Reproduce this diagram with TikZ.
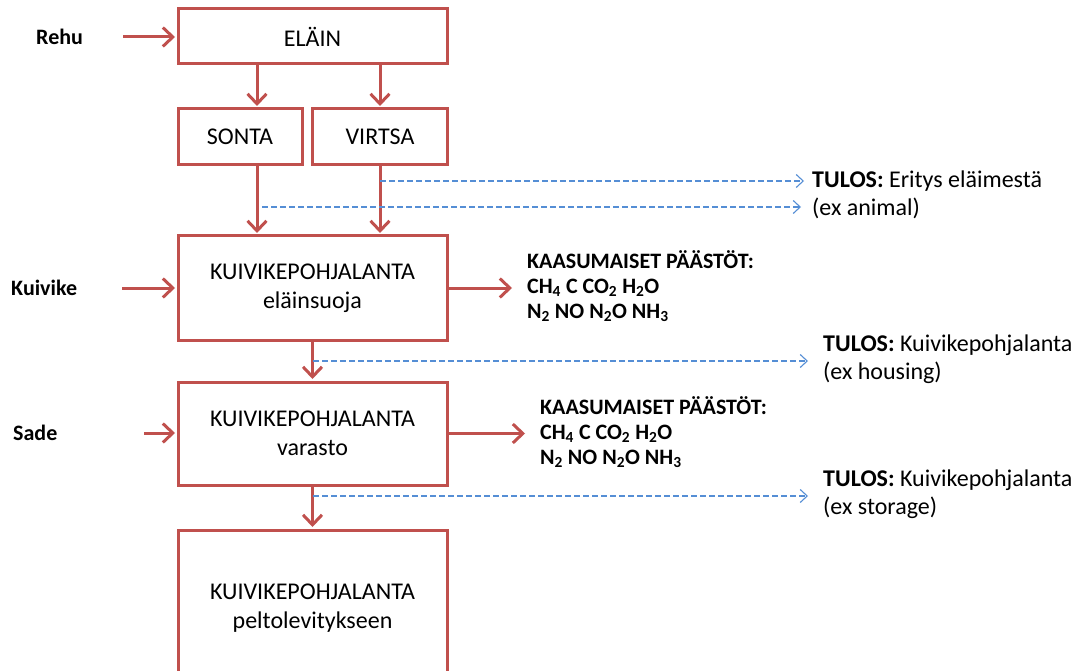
\documentclass[tikz,border=0pt]{standalone}
\usepackage{fontspec}
\setmainfont{Carlito}
\usetikzlibrary{arrows.meta}
\definecolor{boxred}{HTML}{C0504D}
\definecolor{dashblue}{HTML}{558ED5}
\tikzset{
  box/.style={draw=boxred, line width=3pt, align=center, minimum width=269pt, font=\fontsize{24}{29}\selectfont},
  redarrow/.style={draw=boxred, line width=3pt, -{Straight Barb[length=10pt,width=19pt]}},
  bluearrow/.style={draw=dashblue, line width=1.1pt, dash pattern=on 6pt off 3pt, -{Straight Barb[length=7pt,width=13pt]}},
  inlabel/.style={anchor=west, inner sep=0pt, font=\bfseries\fontsize{22}{24}\selectfont},
  gas/.style={anchor=west, align=left, inner sep=0pt, font=\bfseries\fontsize{22}{25}\selectfont},
  tulos/.style={anchor=west, align=left, inner sep=0pt, font=\fontsize{24}{28}\selectfont}
}

\begin{document}
\begin{tikzpicture}[x=1pt,y=-1pt]
  \clip (0,0) rectangle (1074,671);
  % laatikot
  \node[box, minimum height=55pt] (elain) at (312.5,36.5) {ELÄIN};
  \node[box, minimum width=124pt, minimum height=56pt] (sonta) at (240,137) {SONTA};
  \node[box, minimum width=135pt, minimum height=56pt] (virtsa) at (380,137) {VIRTSA};
  \node[box, minimum height=104pt] (suoja) at (312.5,288) {KUIVIKEPOHJALANTA\\eläinsuoja};
  \node[box, minimum height=103pt] (varasto) at (312.5,433.5) {KUIVIKEPOHJALANTA\\varasto};
  \node[box, minimum height=156pt] (pelto) at (312.5,608) {KUIVIKEPOHJALANTA\\peltolevitykseen};

  % sisaan tulevat
  \node[inlabel] (rehu) at (36,37) {Rehu};
  \node[inlabel] (kuivike) at (11,288) {Kuivike};
  \node[inlabel] (sade) at (13,433) {Sade};
  \coordinate (rehuin) at (123,37);
  \coordinate (kuivikein) at (122,288);
  \coordinate (sadein) at (144,433);
  \draw[redarrow, shorten >=1.5pt] (rehuin) -- (rehuin -| elain.west);
  \draw[redarrow, shorten >=1.5pt] (kuivikein) -- (kuivikein -| suoja.west);
  \draw[redarrow, shorten >=1.5pt] (sadein) -- (sadein -| varasto.west);

  % paastot
  \node[gas] (gas1) at (527,286) {KAASUMAISET PÄÄSTÖT:\\CH\textsubscript{4} C CO\textsubscript{2} H\textsubscript{2}O\\N\textsubscript{2} NO N\textsubscript{2}O NH\textsubscript{3}};
  \node[gas] (gas2) at (540,432) {KAASUMAISET PÄÄSTÖT:\\CH\textsubscript{4} C CO\textsubscript{2} H\textsubscript{2}O\\N\textsubscript{2} NO N\textsubscript{2}O NH\textsubscript{3}};
  \draw[redarrow, shorten >=15pt] (suoja.east) -- (suoja.east -| gas1.west);
  \draw[redarrow, shorten >=15pt] (varasto.east) -- (varasto.east -| gas2.west);

  % virtaus alas
  \coordinate (c1) at (257,0);
  \draw[redarrow, shorten >=1.5pt] (elain.south -| c1) -- (sonta.north -| c1);
  \draw[redarrow, shorten >=1.5pt] (elain.south -| virtsa) -- (virtsa.north);
  \draw[redarrow, shorten >=1.5pt] (sonta.south -| c1) -- (suoja.north -| c1);
  \draw[redarrow, shorten >=1.5pt] (virtsa.south) -- (suoja.north -| virtsa);
  \draw[redarrow, shorten >=1.5pt] (suoja.south) -- (varasto.north);
  \draw[redarrow, shorten >=1.5pt] (varasto.south) -- (pelto.north);

  % tulokset
  \node[tulos] (tulos1) at (812,195) {\textbf{TULOS:} Eritys eläimestä\\(ex animal)};
  \node[tulos] (tulos2) at (823,359) {\textbf{TULOS:} Kuivikepohjalanta\\(ex housing)};
  \node[tulos] (tulos3) at (823,494) {\textbf{TULOS:} Kuivikepohjalanta\\(ex storage)};
  \coordinate (d1) at (380,181);
  \coordinate (d2) at (262,207);
  \coordinate (d3) at (313,361);
  \coordinate (d4) at (313,496);
  \draw[bluearrow, shorten >=8pt] (d1) -- (d1 -| tulos1.west);
  \draw[bluearrow, shorten >=11pt] (d2) -- (d2 -| tulos1.west);
  \draw[bluearrow, shorten >=15pt] (d3) -- (d3 -| tulos2.west);
  \draw[bluearrow, shorten >=15pt] (d4) -- (d4 -| tulos3.west);
\end{tikzpicture}
\end{document}
